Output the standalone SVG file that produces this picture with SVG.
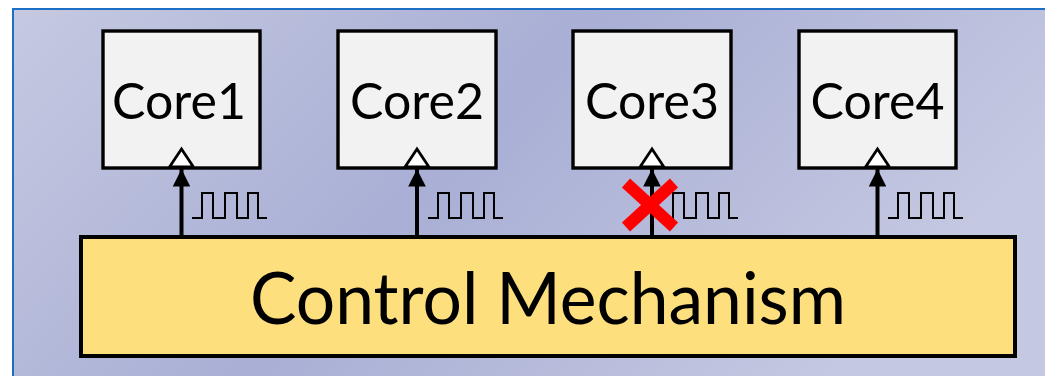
<svg xmlns="http://www.w3.org/2000/svg" width="1045" height="376" viewBox="0 0 1045 376">
  <defs>
    <linearGradient id="bg" x1="0" y1="0" x2="1" y2="0.35">
      <stop offset="0" stop-color="#c5c9e1"/>
      <stop offset="0.5" stop-color="#a9afd5"/>
      <stop offset="1" stop-color="#c4c8e1"/>
    </linearGradient>
    <marker id="head" viewBox="0 0 10 10" refX="10" refY="5" markerWidth="4.4" markerHeight="4.4" markerUnits="strokeWidth" orient="auto">
      <path d="M0,0 L10,5 L0,10 Z" fill="#000"/>
    </marker>
    <!-- clock waveform, origin at the arrow shaft -->
    <path id="clk" d="M11,0 H21 V-25 H32 V0 H44 V-25 H56 V0 H67 V-25 H77 V0 H86"/>
  </defs>
  <style>
    .core rect { fill: #f2f2f2; stroke: #000; stroke-width: 3.4; }
    .core text { font-family: Lato, "Open Sans", sans-serif; font-size: 50px; fill: #000; text-anchor: middle; }
    .clkin { fill: #fff; stroke: #000; stroke-width: 2.8; stroke-linejoin: miter; }
    .wire { stroke: #000; stroke-width: 4; fill: none; marker-end: url(#head); }
    .wave { stroke: #000; stroke-width: 2; fill: none; }
  </style>

  <!-- panel background -->
  <rect x="0" y="0" width="1045" height="376" fill="#fff"/>
  <rect x="13" y="9" width="1040" height="380" fill="url(#bg)" stroke="#1d6fc6" stroke-width="2"/>

  <!-- control block -->
  <g id="control">
    <rect x="81" y="237" width="934" height="119" fill="#fedf7e" stroke="#000" stroke-width="4"/>
    <text x="548" y="324" font-family="Lato, 'Open Sans', sans-serif" font-size="72" text-anchor="middle" textLength="596" lengthAdjust="spacingAndGlyphs" fill="#000">Control Mechanism</text>
  </g>

  <!-- cores -->
  <g id="core1" class="core">
    <rect x="103" y="31" width="157" height="137"/>
    <text x="179" y="119">Core1</text>
    <path class="clkin" d="M169.5,167 L181.5,149 L193.5,167 Z"/>
  </g>
  <g id="core2" class="core">
    <rect x="338" y="31" width="158" height="137"/>
    <text x="417" y="119">Core2</text>
    <path class="clkin" d="M405,167 L417,149 L429,167 Z"/>
  </g>
  <g id="core3" class="core">
    <rect x="573" y="31" width="158" height="137"/>
    <text x="652" y="119">Core3</text>
    <path class="clkin" d="M640,167 L652,149 L664,167 Z"/>
  </g>
  <g id="core4" class="core">
    <rect x="799" y="31" width="157" height="137"/>
    <text x="877.5" y="119">Core4</text>
    <path class="clkin" d="M865.5,167 L877.5,149 L889.5,167 Z"/>
  </g>

  <!-- clock connectors -->
  <g id="connectors">
    <line class="wire" x1="181.5" y1="237" x2="181.5" y2="169"/>
    <line class="wire" x1="417" y1="237" x2="417" y2="169"/>
    <line class="wire" x1="652" y1="237" x2="652" y2="169"/>
    <line class="wire" x1="877.5" y1="237" x2="877.5" y2="169"/>
    <use href="#clk" class="wave" transform="translate(181,218)"/>
    <use href="#clk" class="wave" transform="translate(417,218)"/>
    <use href="#clk" class="wave" transform="translate(652,218)"/>
    <use href="#clk" class="wave" transform="translate(877,218)"/>
  </g>

  <!-- gated clock mark -->
  <g id="gated" stroke="#ff0000" stroke-width="12" stroke-linecap="butt">
    <line x1="626" y1="183" x2="674" y2="227"/>
    <line x1="674" y1="183" x2="626" y2="227"/>
  </g>
</svg>
